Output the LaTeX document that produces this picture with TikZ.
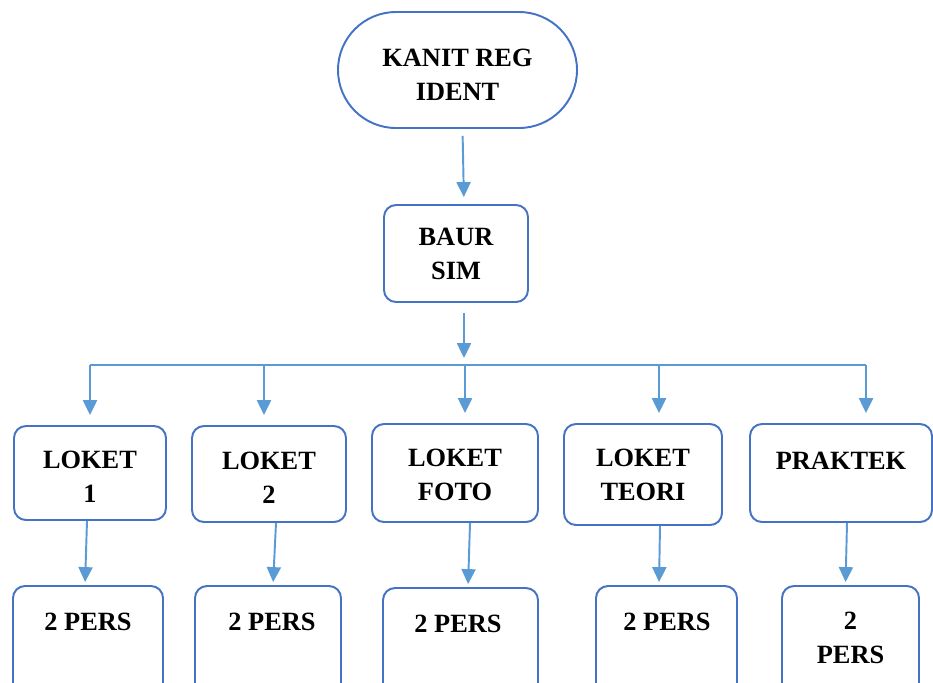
\documentclass[tikz,border=0pt]{standalone}
\usepackage{fontspec}
\setmainfont{Liberation Serif}
\usepackage{tikz}
\usepackage{xcolor}
\usetikzlibrary{arrows.meta,positioning}

\definecolor{boxblue}{HTML}{4472C4}
\definecolor{arrowblue}{HTML}{5B9BD5}

\tikzset{
	box/.style={draw=boxblue, line width=1.1pt, rounded corners=0.24cm, fill=white},
	lbl/.style={font=\fontsize{15}{19.3}\selectfont\bfseries, align=center},
	arr/.style={draw=arrowblue, line width=1.1pt, -{Triangle[length=8.5pt,width=8pt]}}
}

\begin{document}
\begin{tikzpicture}
			\clip (0,0) rectangle (18.66,-13.64);
			\fill[white] (0,0) rectangle (18.66,-13.64);
			\node[box, lbl, text height=1.23cm, rounded corners=1.16cm, minimum width=4.78cm, minimum height=2.32cm] (kanit) at (9.15,-1.40) {KANIT REG\\IDENT};
			\node[box, lbl, minimum width=2.88cm, minimum height=1.94cm] (baur) at (9.12,-5.07) {BAUR\\SIM};
			\node[box, lbl, text height=1.19cm, minimum width=3.04cm, minimum height=1.88cm] (l1) at (1.80,-9.46) {LOKET\\1};
			\node[box, lbl, text height=1.19cm, minimum width=3.08cm, minimum height=1.92cm] (l2) at (5.38,-9.48) {LOKET\\2};
			\node[box, lbl, text height=1.11cm, minimum width=3.32cm, minimum height=1.96cm] (l3) at (9.10,-9.46) {LOKET\\FOTO};
			\node[box, lbl, minimum width=3.16cm, minimum height=2.02cm] (l4) at (12.86,-9.49) {LOKET\\TEORI};
			\node[box, minimum width=3.64cm, minimum height=1.96cm] (l5) at (16.82,-9.46) {};
			\node[lbl] (t5) at (16.82,-9.22) {PRAKTEK};
			\node[box, minimum width=3.00cm, minimum height=2.2cm] (b1) at (1.76,-12.82) {};
			\node[box, minimum width=2.92cm, minimum height=2.2cm] (b2) at (5.36,-12.82) {};
			\node[box, minimum width=3.10cm, minimum height=2.2cm] (b3) at (9.21,-12.86) {};
			\node[box, minimum width=2.82cm, minimum height=2.2cm] (b4) at (13.33,-12.82) {};
			\node[box, minimum width=2.74cm, minimum height=2.2cm] (b5) at (17.01,-12.82) {};
			\node[lbl] (p1) at (1.76,-12.44) {2 PERS};
			\node[lbl] (p2) at (5.44,-12.44) {2 PERS};
			\node[lbl] (p3) at (9.16,-12.48) {2 PERS};
			\node[lbl] (p4) at (13.34,-12.44) {2 PERS};
			\node[lbl] (p5) at (17.01,-12.75) {2\\PERS};
			\coordinate (bus) at (9.28,-7.30);
			\coordinate (c1) at (1.80,-7.30);
			\coordinate (c2) at (5.28,-7.30);
			\coordinate (c3) at (9.30,-7.30);
			\coordinate (c4) at (13.18,-7.30);
			\coordinate (c5) at (17.32,-7.30);
			\draw[arr, shorten <=0.14cm, shorten >=0.14cm] ([xshift=0.1cm]kanit.south) -- ([xshift=0.16cm]baur.north);
			\draw[arr, shorten <=0.2cm, shorten >=0.14cm] ([xshift=0.16cm]baur.south) -- (bus);
			\draw[draw=arrowblue, line width=1.1pt] (c1) -- (c5);
			\foreach \i in {1,...,5}
				\draw[arr, shorten >=0.2cm] (c\i) -- (c\i |- l\i.north);
			\draw[arr, shorten >=0.06cm] ([xshift=-0.06cm]l1.south) -- ([xshift=-0.06cm]b1.north);
			\draw[arr, shorten >=0.06cm] ([xshift=0.14cm]l2.south) -- ([xshift=0.1cm]b2.north);
			\draw[arr, shorten >=0.06cm] ([xshift=0.3cm]l3.south) -- ([xshift=0.15cm]b3.north);
			\draw[arr, shorten >=0.06cm] ([xshift=0.34cm]l4.south) -- ([xshift=-0.15cm]b4.north);
			\draw[arr, shorten >=0.06cm] ([xshift=0.12cm]l5.south) -- ([xshift=-0.1cm]b5.north);
		\end{tikzpicture}
\end{document}
